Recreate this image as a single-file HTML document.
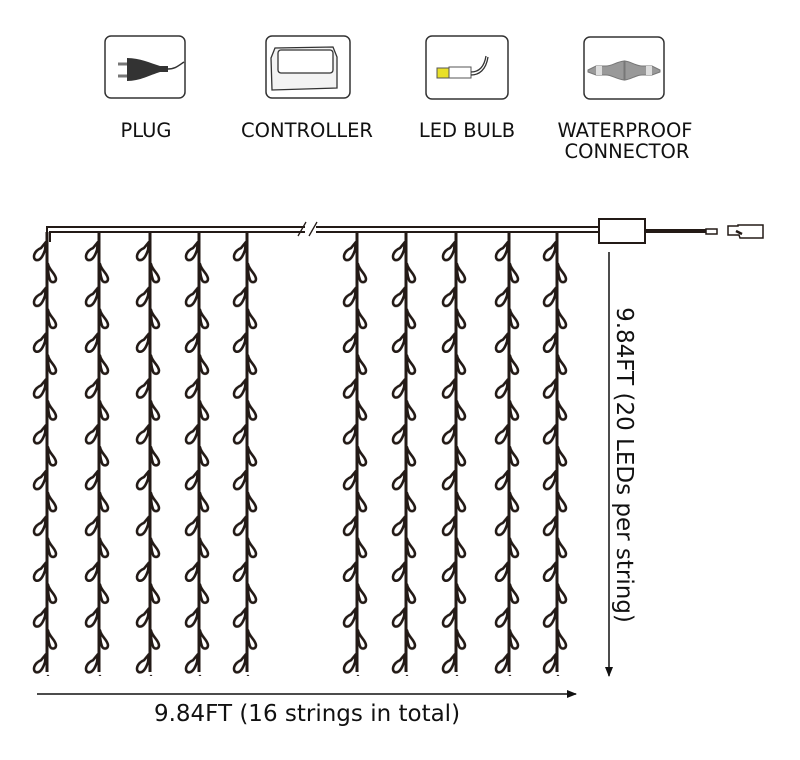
<!DOCTYPE html>
<html><head><meta charset="utf-8"><style>
html,body{margin:0;padding:0;background:#fff;width:800px;height:760px;overflow:hidden}
svg{display:block}
text{font-family:"DejaVu Sans","Liberation Sans",sans-serif;fill:#111}
</style></head><body>
<svg width="800" height="760" viewBox="0 0 800 760">
<defs>
<pattern id="bulbs" patternUnits="userSpaceOnUse" x="-20" y="239" width="40" height="45.8">
  <g stroke="#231a16" stroke-width="2.6" fill="#fff" stroke-linejoin="round">
    <path d="M19,3 L14,9 C7,12 5,19 9,21 C13,22 16,17 18,11 Z"/>
    <path d="M21,25 C22,31 29,35 29,40 C29,44 24,44 23,41 C21,36 21,31 21,25 Z"/>
  </g>
</pattern>
<marker id="ah" markerWidth="10" markerHeight="10" refX="9" refY="5" orient="auto" markerUnits="userSpaceOnUse">
  <path d="M0,1 L10,5 L0,9 Z" fill="#111"/>
</marker>
</defs>

<g stroke="#333" stroke-width="1.5" fill="#fff">
  <rect x="105" y="36" width="80" height="62" rx="6"/>
  <rect x="266" y="36" width="84" height="62" rx="6"/>
  <rect x="426" y="36" width="82" height="63" rx="6"/>
  <rect x="584" y="37" width="80" height="62" rx="6"/>
</g>
<path d="M118,64 L128,64 M118,76 L128,76" stroke="#777" stroke-width="3"/>
<path d="M127,58 C140,58 150,63 160,66 L168,66 L168,72 L160,72 C150,75 140,81 127,81 Z" fill="#333"/>
<path d="M168,69 C175,69 178,66 184,62" stroke="#333" stroke-width="1.5" fill="none"/>
<path d="M271,58 L275,48 L333,47 L337,57 L337,88 L272,90 Z" fill="#f3f3f3" stroke="#333" stroke-width="1.3"/>
<rect x="278" y="50" width="55" height="23" rx="3" fill="#fff" stroke="#333" stroke-width="1.3"/>
<rect x="437" y="68" width="12" height="10" fill="#e9e028" stroke="#555" stroke-width="1"/>
<rect x="449" y="67" width="22" height="11" fill="#fff" stroke="#555" stroke-width="1"/>
<path d="M471,72 C478,72 484,68 486,56 M471,75 C479,75 486,70 488,57" stroke="#333" stroke-width="1.3" fill="none"/>
<path d="M588,70 L596,66 L606,66 C612,66 616,62 624,61 L624,80 C616,79 612,75 606,75 L596,75 L588,72 Z" fill="#999" stroke="#777"/>
<path d="M660,70 L652,66 L642,66 C636,66 632,62 625,61 L625,80 C632,79 636,75 642,75 L652,75 L660,72 Z" fill="#999" stroke="#777"/>
<rect x="596" y="66" width="6" height="9" fill="#ddd"/><rect x="646" y="66" width="6" height="9" fill="#ddd"/>

<g font-size="19.5" text-anchor="middle">
  <text x="146" y="137">PLUG</text>
  <text x="307" y="137">CONTROLLER</text>
  <text x="467" y="137">LED BULB</text>
  <text x="625" y="137">WATERPROOF</text>
  <text x="627" y="158">CONNECTOR</text>
</g>

<g stroke="#231a16" stroke-width="2" fill="none">
  <path d="M47,242 L47,227 L305,227 M316,227 L598,227"/>
  <path d="M50,242 L50,232 L305,232 M316,232 L598,232"/>
  <path d="M298,236 L306,222 M309,236 L317,222" stroke-width="1.3"/>
</g>
<g>
  <g transform="translate(47,0)"><line x1="0" y1="232" x2="0" y2="672" stroke="#231a16" stroke-width="3"/><rect x="-20" y="239" width="40" height="437" fill="url(#bulbs)"/></g>
  <g transform="translate(99,0)"><line x1="0" y1="232" x2="0" y2="672" stroke="#231a16" stroke-width="3"/><rect x="-20" y="239" width="40" height="437" fill="url(#bulbs)"/></g>
  <g transform="translate(150,0)"><line x1="0" y1="232" x2="0" y2="672" stroke="#231a16" stroke-width="3"/><rect x="-20" y="239" width="40" height="437" fill="url(#bulbs)"/></g>
  <g transform="translate(199,0)"><line x1="0" y1="232" x2="0" y2="672" stroke="#231a16" stroke-width="3"/><rect x="-20" y="239" width="40" height="437" fill="url(#bulbs)"/></g>
  <g transform="translate(247,0)"><line x1="0" y1="232" x2="0" y2="672" stroke="#231a16" stroke-width="3"/><rect x="-20" y="239" width="40" height="437" fill="url(#bulbs)"/></g>
  <g transform="translate(357,0)"><line x1="0" y1="232" x2="0" y2="672" stroke="#231a16" stroke-width="3"/><rect x="-20" y="239" width="40" height="437" fill="url(#bulbs)"/></g>
  <g transform="translate(406,0)"><line x1="0" y1="232" x2="0" y2="672" stroke="#231a16" stroke-width="3"/><rect x="-20" y="239" width="40" height="437" fill="url(#bulbs)"/></g>
  <g transform="translate(456,0)"><line x1="0" y1="232" x2="0" y2="672" stroke="#231a16" stroke-width="3"/><rect x="-20" y="239" width="40" height="437" fill="url(#bulbs)"/></g>
  <g transform="translate(509,0)"><line x1="0" y1="232" x2="0" y2="672" stroke="#231a16" stroke-width="3"/><rect x="-20" y="239" width="40" height="437" fill="url(#bulbs)"/></g>
  <g transform="translate(557,0)"><line x1="0" y1="232" x2="0" y2="672" stroke="#231a16" stroke-width="3"/><rect x="-20" y="239" width="40" height="437" fill="url(#bulbs)"/></g>
</g>

<rect x="599" y="219" width="46" height="24" fill="#fff" stroke="#231a16" stroke-width="2"/>
<line x1="645" y1="231" x2="706" y2="231" stroke="#231a16" stroke-width="4"/>
<rect x="706" y="229" width="11" height="5" fill="#fff" stroke="#231a16" stroke-width="1.5"/>
<path d="M728,226 L738,226 L738,225 L763,225 L763,238 L740,238 L739,235 L728,235 Z" fill="#fff" stroke="#231a16" stroke-width="1.5"/>
<path d="M736,231 L742,234" stroke="#231a16" stroke-width="2.5"/>

<line x1="609" y1="252" x2="609" y2="676" stroke="#111" stroke-width="1.5" marker-end="url(#ah)"/>
<text transform="translate(617,465) rotate(90)" font-size="23" text-anchor="middle">9.84FT (20 LEDs per string)</text>
<line x1="37" y1="694" x2="576" y2="694" stroke="#111" stroke-width="1.5" marker-end="url(#ah)"/>
<text x="307" y="721" font-size="23" text-anchor="middle">9.84FT (16 strings in total)</text>
</svg>
</body></html>
